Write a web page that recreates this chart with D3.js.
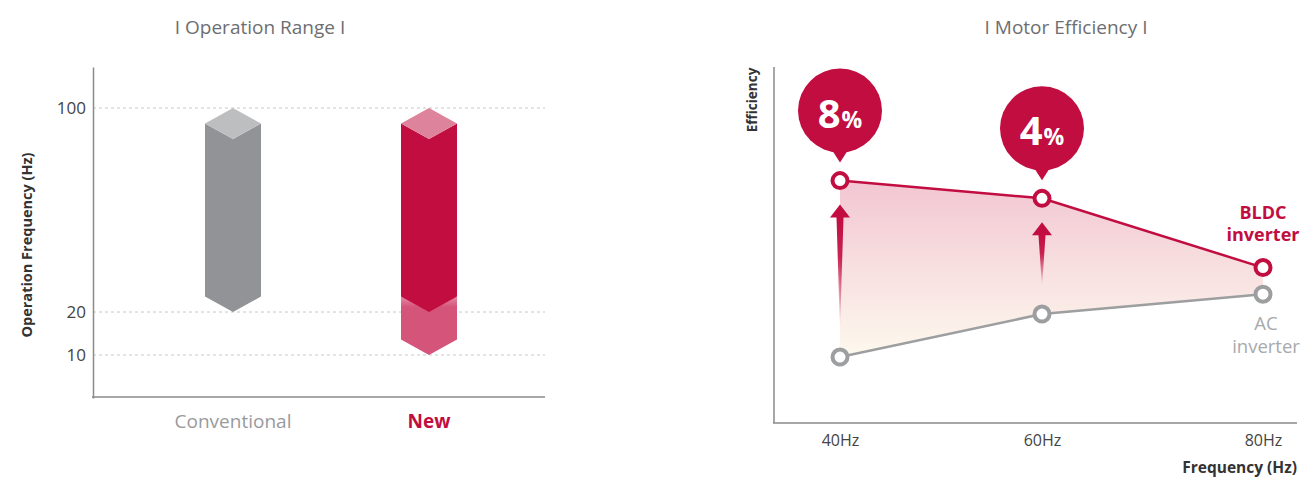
<!DOCTYPE html>
<html>
<head>
<meta charset="utf-8">
<script src="https://cdn.jsdelivr.net/npm/d3@7"></script>
<style>
  body { margin: 0; background: #fff; }
  svg { display: block; font-family: "Open Sans", sans-serif; }
</style>
</head>
<body>
<svg id="chart" width="1302" height="480"></svg>
<script>
// left chart: operation range
var categories = ["Conventional", "New"];
var rangeLow = [20, 20];
var rangeHigh = [100, 100];
var extendedLow = [null, 10];   // extra range reached by the new model
var freqTicks = [10, 20, 100];

// right chart: motor efficiency
var freqs = [40, 60, 80];
var freqLabels = ["40Hz", "60Hz", "80Hz"];
var bldc = [68, 63, 43.5];
var acInv = [18.3, 30.4, 36];
var gains = ["8", "4", null];

var red = "#c20d40", grey = "#929397";
var svg = d3.select("#chart");

var defs = svg.append("defs");
var lg = defs.append("linearGradient").attr("id", "lowFade").attr("x1", 0).attr("x2", 0).attr("y1", 0).attr("y2", 1);
lg.append("stop").attr("offset", "0%").attr("stop-color", "#e48aa5");
lg.append("stop").attr("offset", "18%").attr("stop-color", "#d4547a");
lg.append("stop").attr("offset", "100%").attr("stop-color", "#d4547a");

// ---------- left ----------
var y1 = d3.scaleLinear().domain([0, 20, 100, 116]).range([398, 312, 108, 67]);
var x1 = d3.scalePoint().domain(categories).range([135, 527]).padding(0.5);
var iso = 15.5, half = 28;

svg.append("text").attr("x", 260).attr("y", 34).attr("text-anchor", "middle")
  .attr("fill", "#6d6e71").style("font-size", "19px").text("I Operation Range I");

svg.append("g").selectAll("line").data(freqTicks).join("line")
  .attr("x1", 93).attr("x2", 545)
  .attr("y1", d => y1(d)).attr("y2", d => y1(d))
  .attr("stroke", "#c8c8c8").attr("stroke-dasharray", "3,3");

var axL = svg.append("g").attr("transform", "translate(93,0)")
  .call(d3.axisLeft(y1).tickValues(freqTicks).tickSize(0).tickPadding(7));
axL.select(".domain").attr("stroke", "#8a8a8a").attr("stroke-width", 1.5);
axL.selectAll("text").attr("fill", "#444").style("font-size", "17px").style("font-family", "Open Sans");

svg.append("line").attr("x1", 92).attr("x2", 545).attr("y1", 397).attr("y2", 397)
  .attr("stroke", "#8a8a8a").attr("stroke-width", 1.5);

svg.append("text").attr("transform", "translate(32,245) rotate(-90)").attr("text-anchor", "middle")
  .attr("fill", "#333").style("font-size", "14.5px").style("font-weight", "bold")
  .text("Operation Frequency (Hz)");

function bodyPath(cx, top, bot) {
  return "M" + (cx - half) + "," + (top + iso) + "L" + cx + "," + (top + 2 * iso) +
    "L" + (cx + half) + "," + (top + iso) + "L" + (cx + half) + "," + (bot - iso) +
    "L" + cx + "," + bot + "L" + (cx - half) + "," + (bot - iso) + "Z";
}
function topPath(cx, top) {
  return "M" + (cx - half) + "," + (top + iso) + "L" + cx + "," + top +
    "L" + (cx + half) + "," + (top + iso) + "L" + cx + "," + (top + 2 * iso) + "Z";
}

categories.forEach(function(c, i) {
  var cx = x1(c);
  if (extendedLow[i] != null) {
    var t = y1(rangeLow[i]) - iso, b = y1(extendedLow[i]);
    svg.append("path")
      .attr("d", "M" + (cx - half) + "," + t + "L" + (cx + half) + "," + t + "L" + (cx + half) + "," + (b - iso) +
        "L" + cx + "," + b + "L" + (cx - half) + "," + (b - iso) + "Z")
      .attr("fill", "url(#lowFade)");
  }
  svg.append("path").attr("d", bodyPath(cx, y1(rangeHigh[i]), y1(rangeLow[i])))
    .attr("fill", i == 0 ? grey : red);
  svg.append("path").attr("d", topPath(cx, y1(rangeHigh[i])))
    .attr("fill", i == 0 ? "#bdbec0" : "#de839c");
});

svg.append("g").selectAll("text").data(categories).join("text")
  .attr("x", d => x1(d)).attr("y", 428).attr("text-anchor", "middle")
  .attr("fill", (d, i) => i == 0 ? "#9a9a9c" : red)
  .style("font-size", "19px").style("font-weight", (d, i) => i == 0 ? "normal" : "bold")
  .text(d => d);

// ---------- right ----------
var x2 = d3.scaleLinear().domain([40, 60, 80]).range([840, 1042, 1263]);
var y2 = d3.scaleLinear().domain([0, 100]).range([422, 67]);

svg.append("text").attr("x", 1066).attr("y", 34).attr("text-anchor", "middle")
  .attr("fill", "#6d6e71").style("font-size", "19px").text("I Motor Efficiency I");

var ag = defs.append("linearGradient").attr("id", "areaFill").attr("gradientUnits", "userSpaceOnUse")
  .attr("x1", 0).attr("x2", 0).attr("y1", y2(d3.max(bldc))).attr("y2", y2(d3.min(acInv)));
ag.append("stop").attr("offset", "0%").attr("stop-color", "#f2c6d2");
ag.append("stop").attr("offset", "100%").attr("stop-color", "#fdf9ee");

var areaData = freqs.map((f, i) => ({f: f, hi: bldc[i], lo: acInv[i]}));
svg.append("path").datum(areaData)
  .attr("d", d3.area().x(d => x2(d.f)).y0(d => y2(d.lo)).y1(d => y2(d.hi)))
  .attr("fill", "url(#areaFill)");

// arrows
gains.forEach(function(g, i) {
  if (g == null) return;
  var cx = x2(freqs[i]), tip = y2(bldc[i]) + 24, base = tip + 13, tail = y2(acInv[i]) - 27;
  var id = "arrFade" + i;
  var gr = defs.append("linearGradient").attr("id", id).attr("gradientUnits", "userSpaceOnUse")
    .attr("x1", 0).attr("x2", 0).attr("y1", base).attr("y2", tail);
  gr.append("stop").attr("offset", "0%").attr("stop-color", red);
  gr.append("stop").attr("offset", "35%").attr("stop-color", red).attr("stop-opacity", 0.9);
  gr.append("stop").attr("offset", "100%").attr("stop-color", red).attr("stop-opacity", 0);
  svg.append("path")
    .attr("d", "M" + cx + "," + tip + "L" + (cx + 10) + "," + base + "L" + (cx + 3.5) + "," + base +
      "L" + cx + "," + tail + "L" + (cx - 3.5) + "," + base + "L" + (cx - 10) + "," + base + "Z")
    .attr("fill", "url(#" + id + ")");
});

var line = d3.line().x((d, i) => x2(freqs[i])).y(d => y2(d));
svg.append("path").datum(acInv).attr("d", line).attr("fill", "none").attr("stroke", "#9d9ea0").attr("stroke-width", 2.5);
svg.append("path").datum(bldc).attr("d", line).attr("fill", "none").attr("stroke", red).attr("stroke-width", 2.5);

svg.append("g").selectAll("circle").data(acInv).join("circle")
  .attr("cx", (d, i) => x2(freqs[i])).attr("cy", d => y2(d)).attr("r", 7.5)
  .attr("fill", "#fff").attr("stroke", "#9d9ea0").attr("stroke-width", 4);
svg.append("g").selectAll("circle").data(bldc).join("circle")
  .attr("cx", (d, i) => x2(freqs[i])).attr("cy", d => y2(d)).attr("r", 7.5)
  .attr("fill", "#fff").attr("stroke", red).attr("stroke-width", 4);

// bubbles
gains.forEach(function(g, i) {
  if (g == null) return;
  var cx = x2(freqs[i]), py = y2(bldc[i]), cy = py - 70;
  svg.append("path")
    .attr("d", "M" + (cx - 9) + "," + (cy + 38) + "L" + cx + "," + (py - 18) + "L" + (cx + 9) + "," + (cy + 38) + "Z")
    .attr("fill", red);
  svg.append("circle").attr("cx", cx).attr("cy", cy).attr("r", 42).attr("fill", red);
  var t = svg.append("text").attr("x", cx).attr("y", cy + 17).attr("text-anchor", "middle")
    .attr("fill", "#fff").style("font-weight", "bold");
  t.append("tspan").style("font-size", "40px").text(g);
  t.append("tspan").attr("dx", 1).style("font-size", "23px").text("%");
});

// axes
svg.append("line").attr("x1", 774).attr("x2", 774).attr("y1", 67).attr("y2", 423)
  .attr("stroke", "#8a8a8a").attr("stroke-width", 1.5);
var axB = svg.append("g").attr("transform", "translate(0,423)")
  .call(d3.axisBottom(x2).tickValues(freqs).tickFormat((d, i) => freqLabels[i]).tickSize(0).tickPadding(12));
axB.select(".domain").remove();
svg.append("line").attr("x1", 773).attr("x2", 1297).attr("y1", 423).attr("y2", 423)
  .attr("stroke", "#8a8a8a").attr("stroke-width", 1.5);
axB.selectAll("text").attr("fill", "#444").style("font-size", "16px").style("font-family", "Open Sans");

svg.append("text").attr("transform", "translate(757,100) rotate(-90)").attr("text-anchor", "middle")
  .attr("fill", "#333").style("font-size", "13.5px").style("font-weight", "bold").text("Efficiency");
svg.append("text").attr("x", 1297).attr("y", 473).attr("text-anchor", "end")
  .attr("fill", "#333").style("font-size", "15.5px").style("font-weight", "bold").text("Frequency (Hz)");

// series labels, two lines each
var lx = x2(80);
var bl = svg.append("text").attr("y", 219).attr("text-anchor", "middle").attr("fill", red)
  .style("font-size", "18px").style("font-weight", "bold");
bl.append("tspan").attr("x", lx).text("BLDC");
bl.append("tspan").attr("x", lx).attr("dy", 22).text("inverter");
var al = svg.append("text").attr("y", 330).attr("text-anchor", "middle").attr("fill", "#a8a9ab")
  .style("font-size", "18.5px");
al.append("tspan").attr("x", lx + 3).text("AC");
al.append("tspan").attr("x", lx + 3).attr("dy", 23).text("inverter");
</script>
</body>
</html>
